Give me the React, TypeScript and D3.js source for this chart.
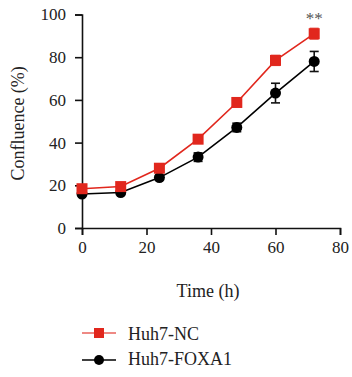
import React, { useEffect, useRef } from "react";
import * as d3 from "d3";

const times = [0, 12, 24, 36, 48, 60, 72];
const ncMean = [18.4, 19.4, 28, 41.6, 58.8, 78.5, 91];
const ncErr = [1, 0.8, 1, 1, 2, 2.3, 2.5];
const foxMean = [15.9, 16.6, 23.6, 33.2, 47.1, 63.2, 78];
const foxErr = [0.8, 0.8, 1, 2, 2, 4.6, 4.7];
const xTicks = [0, 20, 40, 60, 80];
const yTicks = [0, 20, 40, 60, 80, 100];
const seriesNames = ["Huh7-NC", "Huh7-FOXA1"];

const RED = "#e1271d";
const RED_ERR = "#e8625b";
const BLACK = "#000000";
const FONT = "'Liberation Serif', 'DejaVu Serif', serif";

export default function App() {
  const xAxisRef = useRef<SVGGElement>(null);
  const yAxisRef = useRef<SVGGElement>(null);

  const x = d3.scaleLinear().domain([0, 80]).range([82, 340]);
  const y = d3.scaleLinear().domain([0, 100]).range([228, 14.5]);

  useEffect(() => {
    const xa = d3.select(xAxisRef.current!);
    xa.call(d3.axisBottom(x).tickValues(xTicks).tickSize(7).tickPadding(6) as any);
    xa.selectAll("path").attr("stroke-width", 1.6).attr("stroke", "#111");
    xa.selectAll("line").attr("stroke-width", 1.6).attr("stroke", "#111");
    xa.selectAll("text").attr("font-size", 17).attr("font-family", FONT).attr("fill", "#222");
    const ya = d3.select(yAxisRef.current!);
    ya.call(d3.axisLeft(y).tickValues(yTicks).tickSize(7).tickPadding(9) as any);
    ya.selectAll("path").attr("stroke-width", 1.6).attr("stroke", "#111");
    ya.selectAll("line").attr("stroke-width", 1.6).attr("stroke", "#111");
    ya.selectAll("text").attr("font-size", 17).attr("font-family", FONT).attr("fill", "#222");
  }, []);

  const line = d3
    .line<number>()
    .x((_, i) => x(times[i]))
    .y((d) => y(d));

  const errBars = (means: number[], errs: number[], color: string) =>
    means.map((m, i) => {
      const cx = x(times[i]);
      const top = y(m + errs[i]);
      const bot = y(m - errs[i]);
      return (
        <g key={i} stroke={color} strokeWidth={1.6}>
          <line x1={cx} x2={cx} y1={top} y2={bot} />
          <line x1={cx - 4.5} x2={cx + 4.5} y1={top} y2={top} />
          <line x1={cx - 4.5} x2={cx + 4.5} y1={bot} y2={bot} />
        </g>
      );
    });

  return (
    <svg width={352} height={377} style={{ position: "absolute", left: 0, top: 0 }}>
      <rect width={352} height={377} fill="#fff" />
      <g ref={xAxisRef} transform={`translate(0,${y(0)})`} />
      <g ref={yAxisRef} transform={`translate(${x(0)},0)`} />

      {/* FOXA1 series */}
      <path d={line(foxMean) || ""} fill="none" stroke={BLACK} strokeWidth={1.6} />
      {errBars(foxMean, foxErr, "#111")}
      {foxMean.map((m, i) => (
        <circle key={i} cx={x(times[i])} cy={y(m)} r={5.5} fill={BLACK} />
      ))}

      {/* NC series */}
      <path d={line(ncMean) || ""} fill="none" stroke={RED} strokeWidth={1.6} />
      {errBars(ncMean, ncErr, RED_ERR)}
      {ncMean.map((m, i) => (
        <rect key={i} x={x(times[i]) - 5.5} y={y(m) - 5.5} width={11} height={11} fill={RED} />
      ))}

      <text x={x(72)} y={y(95.5)} textAnchor="middle" fontFamily={FONT} fontSize={17} fill="#555">
        **
      </text>

      <text
        transform={`translate(24,${y(49)}) rotate(-90)`}
        textAnchor="middle"
        fontFamily={FONT}
        fontSize={18}
        fill="#222"
      >
        Confluence (%)
      </text>
      <text x={208} y={297} textAnchor="middle" fontFamily={FONT} fontSize={18} fill="#222">
        Time (h)
      </text>

      {/* legend */}
      <g>
        <line x1={82} x2={116} y1={333} y2={333} stroke={RED_ERR} strokeWidth={1.6} />
        <rect x={94} y={328} width={10} height={10} fill={RED} />
        <text x={128} y={340} fontFamily={FONT} fontSize={18} fill="#222">
          {seriesNames[0]}
        </text>
        <line x1={82} x2={116} y1={360} y2={360} stroke={BLACK} strokeWidth={1.6} />
        <circle cx={99} cy={360} r={5} fill={BLACK} />
        <text x={128} y={365} fontFamily={FONT} fontSize={18} fill="#222">
          {seriesNames[1]}
        </text>
      </g>
    </svg>
  );
}
